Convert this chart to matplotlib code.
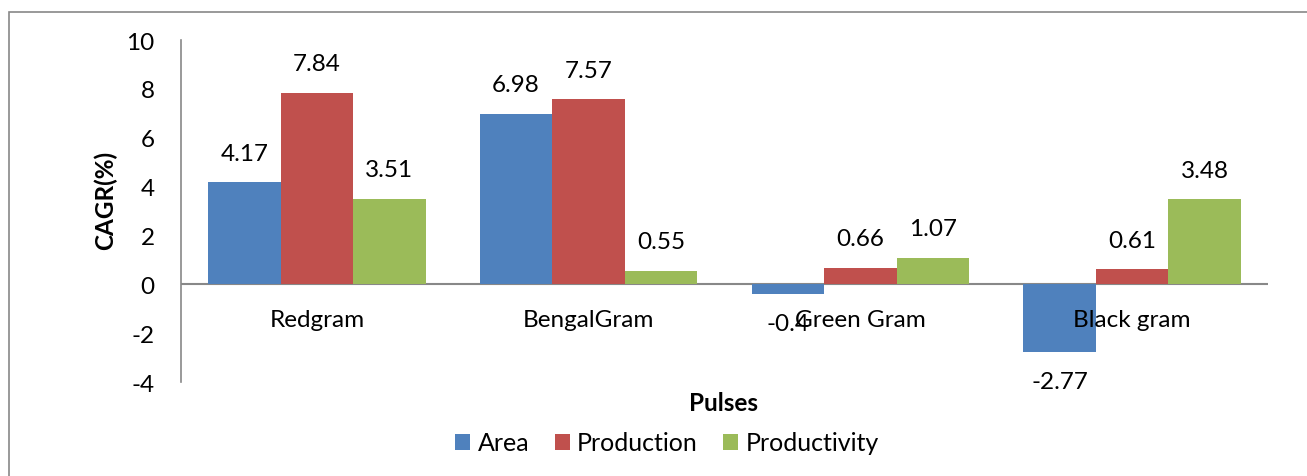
import numpy as np
import matplotlib.pyplot as plt
from matplotlib.patches import Rectangle

plt.rcParams["font.family"] = ["Lato", "DejaVu Sans"]
plt.rcParams["axes.unicode_minus"] = False

# data
pulses = ["Redgram", "BengalGram", "Green Gram", "Black gram"]
area = [4.17, 6.98, -0.4, -2.77]
production = [7.84, 7.57, 0.66, 0.61]
productivity = [3.51, 0.55, 1.07, 3.48]
series_names = ["Area", "Production", "Productivity"]
colors = ["#4F81BD", "#C0504D", "#9BBB59"]

FS = 17.5
W, H = 1307, 477
fig = plt.figure(figsize=(W / 100, H / 100), dpi=100)
ax = fig.add_axes([181 / W, 1 - 383 / H, (1268 - 181) / W, (383 - 41) / H])

# outer chart frame
fig.patches.append(Rectangle((9 / W, -0.1), 1.2, 1 - 13 / H + 0.1,
                             transform=fig.transFigure, fill=False,
                             edgecolor="#888888", linewidth=1.2))

x = np.arange(len(pulses))
width = 0.267
for i, (vals, name, col) in enumerate(zip([area, production, productivity],
                                          series_names, colors)):
    pos = x + (i - 1) * width
    ax.bar(pos, vals, width, color=col, label=name, zorder=2)
    for px, v in zip(pos, vals):
        off = 21 if v >= 0 else -21
        ax.annotate(f"{v:g}", (px, v), xytext=(0, off), textcoords="offset points",
                    ha="center", va="center", fontsize=FS, zorder=3)

ax.set_xlim(-0.5, len(pulses) - 0.5)
ax.set_ylim(-4, 10)
ax.set_yticks(range(-4, 11, 2))
ax.tick_params(axis="y", length=0, labelsize=FS, pad=19)
ax.set_xticks([])

for s in ["top", "right", "bottom"]:
    ax.spines[s].set_visible(False)
ax.spines["left"].set_color("#888888")
ax.spines["left"].set_linewidth(1.2)
ax.axhline(0, color="#888888", linewidth=1.5, zorder=1)

for xi, name in zip(x, pulses):
    ax.text(xi, -1.45, name, ha="center", va="center", fontsize=FS)

fig.text(105 / W, 1 - 200 / H, "CAGR(%)", rotation=90, ha="center", va="center",
         fontsize=FS, fontweight="bold")
fig.text(724 / W, 1 - 404 / H, "Pulses", ha="center", va="center",
         fontsize=FS, fontweight="bold")

fig.legend(loc="center", bbox_to_anchor=(667 / W, 1 - 444 / H), ncol=3,
           frameon=False, fontsize=FS + 0.5, handlelength=0.6, handleheight=0.6,
           handletextpad=0.3, columnspacing=1.0)

fig.savefig("out.png", dpi=100)
